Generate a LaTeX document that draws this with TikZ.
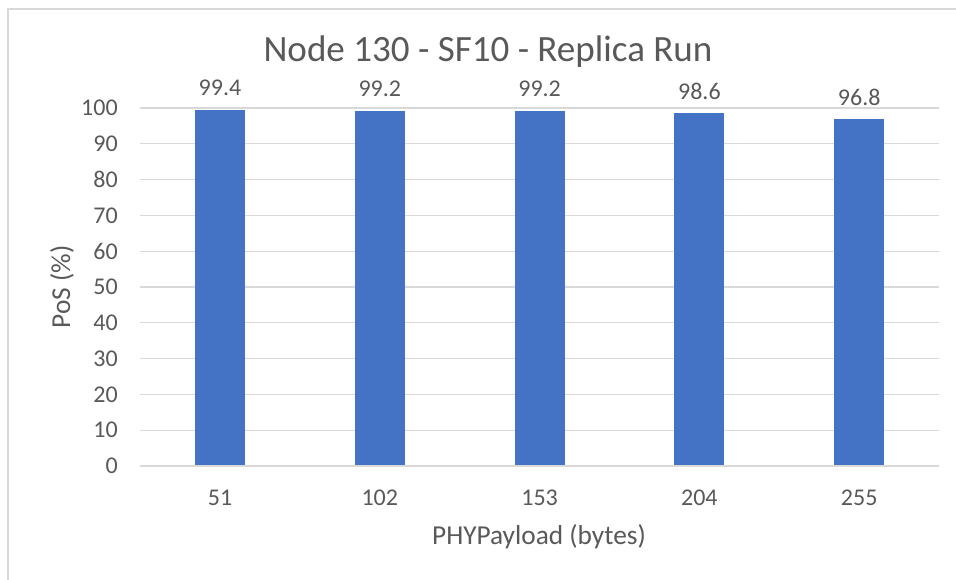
\documentclass[tikz,border=0pt]{standalone}
\usepackage{fontspec}
\setmainfont{Carlito}
\definecolor{barblue}{HTML}{4472C4}
\definecolor{gridgray}{HTML}{D9D9D9}
\definecolor{textgray}{HTML}{595959}
\begin{document}
\begin{tikzpicture}[x=0.75pt,y=-0.75pt,
  grid/.style={draw=gridgray,line width=1pt},
  frame/.style={draw=gridgray,line width=1.1pt},
  bar/.style={fill=barblue},
  ticklbl/.style={text=textgray,font=\fontsize{18}{22}\selectfont,inner sep=0pt},
  titlelbl/.style={text=textgray,font=\fontsize{27.8}{33}\selectfont,inner sep=0pt},
  axislbl/.style={text=textgray,font=\fontsize{20.5}{24}\selectfont,inner sep=0pt}]
\useasboundingbox (0,0) rectangle (956,580);
\fill[white] (0,0) rectangle (956,580);
% chart frame (runs off the right and bottom edges)
\draw[frame] (8,600) -- (8,9) -- (980,9);
% horizontal gridlines and value ticks, 0..100 step 10
\foreach \v in {0,10,...,100} {
  \pgfmathsetmacro{\yy}{466-3.58*\v}
  \draw[grid] (140,\yy) -- (939,\yy);
  \node[ticklbl,anchor=east] (tick\v) at (118,\yy) {\v};
}
% bars with data labels and category labels
\foreach \i/\cat/\val in {0/51/99.4,1/102/99.2,2/153/99.2,3/204/98.6,4/255/96.8} {
  \pgfmathsetmacro{\xc}{220+159.8*\i}
  \pgfmathsetmacro{\top}{466-3.58*\val}
  \fill[bar] (\xc-25,466) rectangle (\xc+25,\top);
  \node[ticklbl] (val\i) at (\xc,\top-22) {\val};
  \node[ticklbl] (cat\i) at (\xc,498) {\cat};
}
\draw[grid] (140,466) -- (939,466);
% titles
\node[titlelbl] (title) at (488,52) {Node 130 - SF10 - Replica Run};
\node[axislbl] (xtitle) at (539,537) {PHYPayload (bytes)};
\node[axislbl,rotate=90] (ytitle) at (62,287) {PoS (\%)};
\end{tikzpicture}
\end{document}
